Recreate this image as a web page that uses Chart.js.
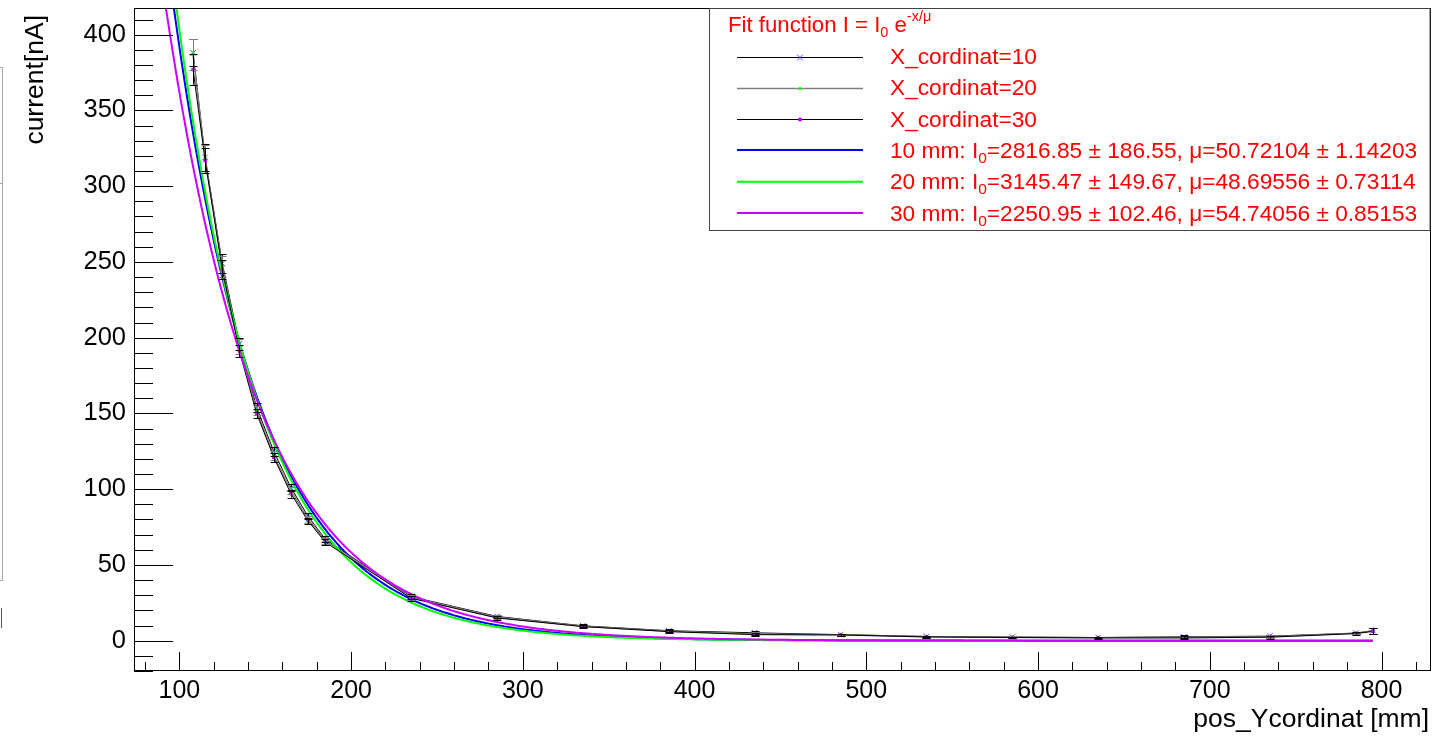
<!DOCTYPE html>
<html>
<head>
<meta charset="utf-8">
<script src="https://cdn.jsdelivr.net/npm/chart.js@4/dist/chart.umd.min.js"></script>
<style>
  html, body { margin: 0; padding: 0; background: #ffffff; overflow: hidden; }
  #wrap { width: 1437px; height: 737px; position: relative; }
</style>
</head>
<body>
<div id="wrap"><canvas id="c" width="1437" height="737"></canvas></div>
<script>
// Measurement positions along Y [mm]
const positions = [108, 115, 125, 135, 145, 155, 165, 175, 185, 235, 285, 335, 385, 435, 485, 535, 585, 635, 685, 735, 785, 795];

// Measured current [nA] for the three X positions
const current10 = [388, 319, 249, 196, 154, 125, 101, 82, 67, 29, 16, 9.8, 6.6, 5.2, 4.0, 2.8, 2.4, 2.1, 2.6, 3.0, 5.0, 6.6];
const current20 = [387, 318, 247, 194, 152, 122, 99, 80, 66, 28.5, 15.5, 9.5, 6.3, 4.5, 3.9, 2.6, 2.2, 2.0, 2.2, 2.6, 4.9, 6.4];
const current30 = [377, 317, 245, 191, 150, 121, 97, 79, 65, 28, 15, 9.3, 6.0, 4.0, 3.8, 2.5, 2.1, 1.9, 1.8, 2.3, 4.7, 6.2];

// Uncertainties [nA]
const error10 = [9, 9, 6, 4, 3, 3, 2.5, 2, 2, 1.5, 1.2, 1, 1, 1.2, 0.6, 0.6, 0.6, 0.6, 1, 1, 0.8, 2];
const error20 = [10, 9, 7, 5, 3, 3, 2.5, 2, 2, 1.5, 1.2, 1, 1, 1.2, 0.6, 0.6, 0.6, 0.6, 1, 1, 0.8, 2];
const error30 = [10, 8, 6, 4, 3, 3, 2.5, 2, 2, 1.5, 1.2, 1, 1, 1.2, 0.6, 0.6, 0.6, 0.6, 1, 1, 0.8, 2];

// Exponential fit results I = I0 * exp(-x/mu)
const fitNames = ['10 mm', '20 mm', '30 mm'];
const fitI0 = [2816.85, 3145.47, 2250.95];
const fitI0Err = [186.55, 149.67, 102.46];
const fitMu = [50.72104, 48.69556, 54.74056];
const fitMuErr = [1.14203, 0.73114, 0.85153];
const fitRange = [74, 795];

const seriesNames = ['X_cordinat=10', 'X_cordinat=20', 'X_cordinat=30'];

// Axis ranges and labelled ticks
const xRange = [73.6, 828.8];
const yRange = [-20, 417.6];
const xTickValues = [100, 200, 300, 400, 500, 600, 700, 800];
const yTickValues = [0, 50, 100, 150, 200, 250, 300, 350, 400];
const xMinorStep = 20, yMinorStep = 10;

const FONT = '"Liberation Sans", Arial, Helvetica, sans-serif';
const RED = '#ff0000';
const fitColors = ['#0000ff', '#00ff00', '#cc00ff'];

function toPoints(xs, ys) { return xs.map((x, i) => ({ x: x, y: ys[i] })); }

function fitCurve(k) {
  const pts = [];
  for (let x = fitRange[0]; x <= fitRange[1]; x += 1) {
    pts.push({ x: x, y: fitI0[k] * Math.exp(-x / fitMu[k]) });
  }
  return pts;
}

const dataSeries = [
  { values: current10, errors: error10, line: '#000000', lineWidth: 1, marker: 'crossRot', markerColor: '#4d4dff', radius: 4 },
  { values: current20, errors: error20, line: '#7f7f7f', lineWidth: 1.5, marker: 'circle', markerColor: '#00ff00', radius: 1.6 },
  { values: current30, errors: error30, line: '#000000', lineWidth: 1, marker: 'rect', markerColor: '#cc00ff', radius: 1.8 }
];

const datasets = [];
dataSeries.forEach((s, k) => {
  datasets.push({
    label: seriesNames[k],
    data: toPoints(positions, s.values),
    showLine: true,
    borderColor: s.line,
    borderWidth: s.lineWidth,
    pointStyle: s.marker,
    pointRadius: s.radius,
    pointBorderColor: s.markerColor,
    pointBackgroundColor: s.markerColor,
    pointBorderWidth: 1,
    tension: 0,
    order: 6 - 2 * k,
    errors: s.errors,
    errorColor: s.line
  });
  datasets.push({
    label: fitNames[k],
    data: fitCurve(k),
    showLine: true,
    borderColor: fitColors[k],
    borderWidth: 2,
    pointRadius: 0,
    tension: 0,
    order: 5 - 2 * k
  });
});

// Vertical error bars with end caps
const errorBarPlugin = {
  id: 'errorBars',
  afterDatasetsDraw(chart) {
    const ctx = chart.ctx;
    const xs = chart.scales.x, ys = chart.scales.y;
    const area = chart.chartArea;
    ctx.save();
    ctx.beginPath();
    ctx.rect(area.left, area.top, area.right - area.left, area.bottom - area.top);
    ctx.clip();
    chart.data.datasets.forEach(ds => {
      if (!ds.errors) return;
      ctx.strokeStyle = ds.errorColor;
      ctx.lineWidth = 1;
      ds.data.forEach((p, i) => {
        const e = ds.errors[i];
        const px = Math.round(xs.getPixelForValue(p.x)) + 0.5;
        const y1 = ys.getPixelForValue(p.y + e);
        const y2 = ys.getPixelForValue(p.y - e);
        ctx.beginPath();
        ctx.moveTo(px, y1); ctx.lineTo(px, y2);
        ctx.moveTo(px - 4, Math.round(y1) + 0.5); ctx.lineTo(px + 4, Math.round(y1) + 0.5);
        ctx.moveTo(px - 4, Math.round(y2) + 0.5); ctx.lineTo(px + 4, Math.round(y2) + 0.5);
        ctx.stroke();
      });
    });
    ctx.restore();
  }
};

// Draws a run of text pieces with sub/superscripts; returns end x
function drawRich(ctx, parts, x, y, color) {
  ctx.fillStyle = color;
  ctx.textAlign = 'left';
  ctx.textBaseline = 'alphabetic';
  let cx = x;
  parts.forEach(p => {
    ctx.font = p.size + 'px ' + FONT;
    ctx.fillText(p.t, cx, y + (p.dy || 0));
    cx += ctx.measureText(p.t).width;
  });
  return cx;
}

function drawMarker(ctx, style, cx, cy, r, color) {
  ctx.save();
  ctx.strokeStyle = color;
  ctx.fillStyle = color;
  ctx.lineWidth = 1;
  if (style === 'crossRot') {
    ctx.beginPath();
    ctx.moveTo(cx - r * 0.7, cy - r * 0.7); ctx.lineTo(cx + r * 0.7, cy + r * 0.7);
    ctx.moveTo(cx - r * 0.7, cy + r * 0.7); ctx.lineTo(cx + r * 0.7, cy - r * 0.7);
    ctx.stroke();
  } else if (style === 'rect') {
    ctx.fillRect(cx - r, cy - r, 2 * r, 2 * r);
  } else {
    ctx.beginPath();
    ctx.arc(cx, cy, r, 0, Math.PI * 2);
    ctx.fill();
  }
  ctx.restore();
}

function isMultiple(v, list) { return list.some(t => Math.abs(t - v) < 1e-6); }

// Frame, inward ticks, axis titles, legend box
const framePlugin = {
  id: 'frameDecor',
  afterDraw(chart) {
    const ctx = chart.ctx;
    const xs = chart.scales.x, ys = chart.scales.y;
    const a = chart.chartArea;
    ctx.save();

    // pieces of a neighbouring pad at the left edge
    ctx.strokeStyle = '#a8a8a8';
    ctx.lineWidth = 1;
    ctx.strokeRect(-5.5, 67.5, 8, 513);
    ctx.beginPath(); ctx.moveTo(0, 183.5); ctx.lineTo(3, 183.5); ctx.stroke();
    ctx.strokeStyle = '#555555';
    ctx.beginPath(); ctx.moveTo(1.5, 608); ctx.lineTo(1.5, 628); ctx.stroke();

    // frame
    ctx.strokeStyle = '#000000';
    ctx.lineWidth = 1;
    ctx.strokeRect(Math.round(a.left) + 0.5, Math.round(a.top) + 0.5,
                   Math.round(a.right - a.left) - 1, Math.round(a.bottom - a.top) - 1);

    // y ticks: long at labelled values, short in between
    ctx.beginPath();
    for (let v = Math.ceil(yRange[0] / yMinorStep) * yMinorStep; v <= yRange[1]; v += yMinorStep) {
      const py = Math.round(ys.getPixelForValue(v)) + 0.5;
      ctx.moveTo(a.left, py);
      ctx.lineTo(a.left + (isMultiple(v, yTickValues) ? 39 : 19), py);
    }
    // x ticks
    for (let v = Math.ceil(xRange[0] / xMinorStep) * xMinorStep; v <= xRange[1]; v += xMinorStep) {
      const px = Math.round(xs.getPixelForValue(v)) + 0.5;
      ctx.moveTo(px, a.bottom);
      ctx.lineTo(px, a.bottom - (isMultiple(v, xTickValues) ? 19 : 9));
    }
    ctx.stroke();

    // axis titles
    ctx.fillStyle = '#000000';
    ctx.font = '26.5px ' + FONT;
    ctx.textAlign = 'right';
    ctx.textBaseline = 'alphabetic';
    ctx.fillText('pos_Ycordinat [mm]', a.right - 2, 727);

    ctx.save();
    ctx.translate(43, 15);
    ctx.rotate(-Math.PI / 2);
    ctx.font = '26.5px ' + FONT;
    ctx.textAlign = 'right';
    ctx.fillText('current[nA]', 0, 0);
    ctx.restore();

    // legend box
    const lx = 709.5, ly = 8.5, lw = a.right - 1 - 709.5, lh = 222;
    ctx.fillStyle = '#ffffff';
    ctx.fillRect(lx, ly, lw, lh);
    ctx.strokeStyle = '#444444';
    ctx.strokeRect(lx, ly, lw, lh);

    drawRich(ctx, [
      { t: 'Fit function I = I', size: 22.2 },
      { t: '0', size: 14.5, dy: 5 },
      { t: ' e', size: 22.2 },
      { t: '-x/\u03bc', size: 14.5, dy: -11 }
    ], 728, 31.5, RED);

    const rows = [56.7, 87.7, 119, 150, 181.7, 213];
    const sx1 = 737, sx2 = 863, tx = 890;
    dataSeries.forEach((s, k) => {
      const ry = Math.round(rows[k]) + 0.5;
      ctx.strokeStyle = s.line;
      ctx.lineWidth = s.lineWidth;
      ctx.beginPath(); ctx.moveTo(sx1, ry); ctx.lineTo(sx2, ry); ctx.stroke();
      drawMarker(ctx, s.marker, (sx1 + sx2) / 2, ry, s.radius, s.markerColor);
      drawRich(ctx, [{ t: seriesNames[k], size: 22.7 }], tx, rows[k] + 7.5, RED);
    });
    fitNames.forEach((name, k) => {
      const ry = rows[3 + k];
      ctx.strokeStyle = fitColors[k];
      ctx.lineWidth = 2;
      ctx.beginPath(); ctx.moveTo(sx1, ry); ctx.lineTo(sx2, ry); ctx.stroke();
      drawRich(ctx, [
        { t: name + ': I', size: 22.7 },
        { t: '0', size: 15.5, dy: 5 },
        { t: '=' + fitI0[k].toFixed(2) + ' \u00b1 ' + fitI0Err[k].toFixed(2) +
             ', \u03bc=' + fitMu[k].toFixed(5) + ' \u00b1 ' + fitMuErr[k].toFixed(5), size: 22.7 }
      ], tx, ry + 7.5, RED);
    });

    ctx.restore();
  }
};

new Chart(document.getElementById('c'), {
  type: 'scatter',
  data: { datasets: datasets },
  options: {
    responsive: false,
    devicePixelRatio: 1,
    animation: false,
    events: [],
    layout: { padding: { left: 0, right: 6, top: 8, bottom: 0 } },
    plugins: { legend: { display: false }, tooltip: { enabled: false } },
    scales: {
      x: {
        type: 'linear',
        min: xRange[0], max: xRange[1],
        bounds: 'data',
        grid: { display: false, drawTicks: false },
        border: { display: false },
        afterBuildTicks(s) { s.ticks = xTickValues.map(v => ({ value: v })); },
        ticks: {
          autoSkip: false, maxRotation: 0,
          padding: 5, color: '#000000', font: { family: FONT, size: 25 }
        },
        afterFit(s) { s.height = 66; s.paddingLeft = 0; s.paddingRight = 0; }
      },
      y: {
        type: 'linear',
        min: yRange[0], max: yRange[1],
        bounds: 'data',
        grid: { display: false, drawTicks: false },
        border: { display: false },
        afterBuildTicks(s) { s.ticks = yTickValues.map(v => ({ value: v })); },
        ticks: {
          autoSkip: false,
          padding: 8, color: '#000000', font: { family: FONT, size: 25.5 }
        },
        afterFit(s) { s.width = 134; s.paddingTop = 0; s.paddingBottom = 0; }
      }
    }
  },
  plugins: [errorBarPlugin, framePlugin]
});
</script>
</body>
</html>
